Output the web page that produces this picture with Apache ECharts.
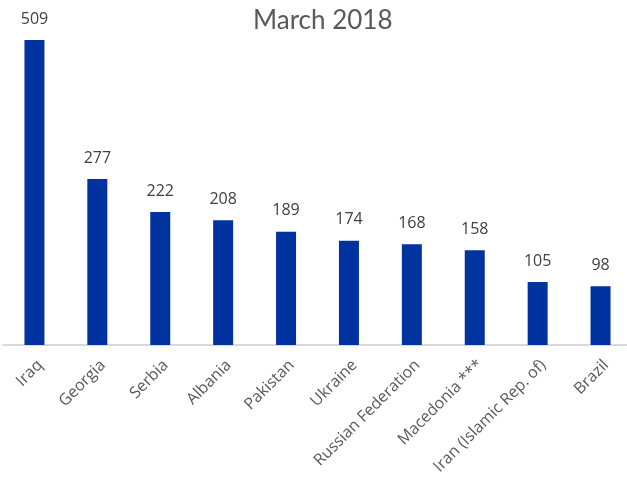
<!DOCTYPE html>
<html>
<head>
<meta charset="utf-8">
<script src="https://cdn.jsdelivr.net/npm/echarts@6/dist/echarts.min.js"></script>
<style>html,body{margin:0;padding:0;background:#fff;overflow:hidden;width:627px;height:482px;}#c{width:640px;height:482px;}</style>
</head>
<body>
<div id="c"></div>
<script>
const titleText = "March 2018";
const categories = ["Iraq", "Georgia", "Serbia", "Albania", "Pakistan", "Ukraine", "Russian Federation", "Macedonia ***", "Iran (Islamic Rep. of)", "Brazil"];
const values = [509, 277, 222, 208, 189, 174, 168, 158, 105, 98];

const chart = echarts.init(document.getElementById('c'), null, {renderer: 'canvas'});
chart.setOption({
  animation: false,
  backgroundColor: '#ffffff',
  title: {
    text: titleText,
    left: 248,
    top: 3,
    textStyle: {fontFamily: 'Lato', fontWeight: 'normal', fontSize: 26, color: '#595959'}
  },
  grid: {left: 3, width: 629, top: 40, bottom: 137, containLabel: false},
  xAxis: {
    type: 'category',
    data: categories,
    axisLine: {lineStyle: {color: '#d9d9d9', width: 2}},
    axisTick: {show: false},
    axisLabel: {rotate: 45, margin: 12, interval: 0, verticalAlign: 'top', fontFamily: 'Open Sans', fontSize: 16, color: '#595959'}
  },
  yAxis: {
    type: 'value',
    min: 0,
    max: 509,
    show: false,
    splitLine: {show: false}
  },
  series: [{
    type: 'bar',
    data: values,
    barWidth: 20,
    itemStyle: {color: '#0033A0'},
    label: {show: true, position: 'top', distance: 13, fontFamily: 'Open Sans', fontSize: 16, color: '#404040'}
  }]
});
</script>
</body>
</html>
